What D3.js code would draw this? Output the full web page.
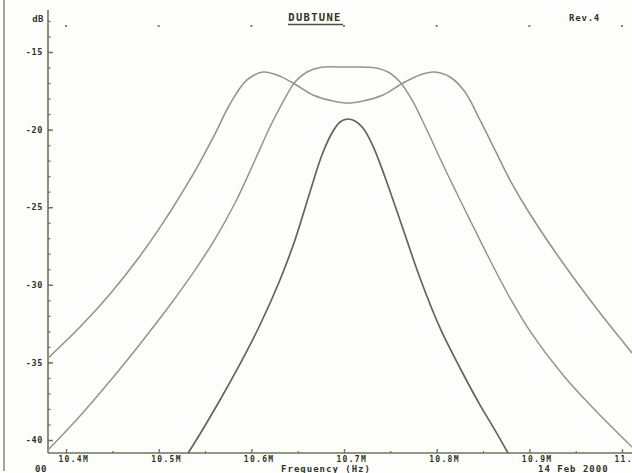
<!DOCTYPE html>
<html>
<head>
<meta charset="utf-8">
<script src="https://cdn.jsdelivr.net/npm/d3@7/dist/d3.min.js"></script>
<style>
  html, body { margin: 0; padding: 0; background: #fdfdfb; }
  svg { display: block; }
  text { font-family: "DejaVu Sans Mono", monospace; font-weight: bold; fill: #2f3424; }
</style>
</head>
<body>
<script>
// ---------------- data ----------------
const title = "DUBTUNE";
const revision = "Rev.4";
const dateLabel = "14 Feb 2000";
const xAxisTitle = "Frequency (Hz)";
const yAxisUnit = "dB";
const cornerLabel = "00";

const xTickValues = [10.4, 10.5, 10.6, 10.7, 10.8, 10.9, 11.0];
const xTickLabels = ["10.4M", "10.5M", "10.6M", "10.7M", "10.8M", "10.9M", "11.0"];
const xMinorTicks = [10.45, 10.55, 10.65, 10.75, 10.85, 10.95];
const yTickValues = [-40, -35, -30, -25, -20, -15];
const yMinorTicks = [-40, -39, -38, -37, -36, -35, -34, -33, -32, -31, -30, -29, -28, -27, -26,
                     -25, -24, -23, -22, -21, -20, -19, -18, -17, -16, -15, -14, -13];

// Curve A: wide, double-humped response (MHz, dB)
const freqA = [10.3806, 10.4151, 10.4475, 10.4799, 10.5068, 10.5284, 10.5446, 10.5608, 10.5770,
               10.5953, 10.6126, 10.6277, 10.6450, 10.6665, 10.6881, 10.7043, 10.7205, 10.7421,
               10.7637, 10.7820, 10.7971, 10.8144, 10.8306, 10.8467, 10.8629, 10.8791, 10.9007,
               10.9363, 10.9730, 11.0108];
const dbA   = [-34.72, -32.72, -30.59, -28.14, -25.82, -23.76, -22.09, -20.28, -18.35,
               -16.80, -16.29, -16.48, -17.00, -17.77, -18.16, -18.29, -18.16, -17.77,
               -17.00, -16.48, -16.29, -16.61, -17.58, -19.38, -21.31, -23.25, -25.44,
               -28.60, -31.56, -34.39];

// Curve B: flat-topped response
const freqB = [10.3806, 10.4151, 10.4475, 10.4799, 10.5122, 10.5392, 10.5608, 10.5824, 10.6040,
               10.6201, 10.6342, 10.6471, 10.6601, 10.6741, 10.7032, 10.7313, 10.7475, 10.7604,
               10.7734, 10.7874, 10.8090, 10.8306, 10.8575, 10.8791, 10.9007, 10.9363, 10.9730,
               11.0108];
const dbB   = [-40.64, -38.45, -36.20, -33.81, -31.30, -29.05, -27.05, -24.73, -21.96,
               -19.83, -18.22, -16.93, -16.29, -16.00, -15.97, -16.00, -16.29, -16.93,
               -18.09, -19.77, -22.54, -25.18, -28.40, -30.85, -32.98, -35.81, -38.20,
               -40.45];

// Curve C: narrow single-peak response
const freqC = [10.5284, 10.5446, 10.5662, 10.5878, 10.6093, 10.6309, 10.6471, 10.6633, 10.6762,
               10.6870, 10.6957, 10.7032, 10.7119, 10.7205, 10.7313, 10.7442, 10.7604, 10.7820,
               10.8036, 10.8252, 10.8467, 10.8629, 10.8770];
const dbC   = [-41.16, -39.61, -37.42, -35.10, -32.59, -29.69, -27.11, -24.02, -21.64,
               -20.22, -19.51, -19.32, -19.45, -19.90, -21.06, -23.05, -25.82, -29.56,
               -32.78, -35.36, -37.74, -39.36, -40.84];

// ---------------- layout ----------------
const W = 632, H = 473;
const frame = { left: 48, right: 632, top: 10, bottom: 453 };
const axisColor = "#6e755d";
const curveLight = "#8f9a82";
const curveDark = "#5f6951";

const svg = d3.select("body").append("svg").attr("width", W).attr("height", H);
svg.append("rect").attr("width", W).attr("height", H).attr("fill", "#fdfdfb");

const x = d3.scaleLinear().domain([10.4, 11.0]).range([66, 622]);
const y = d3.scaleLinear().domain([-40, -15]).range([440, 52]);

// scan edge line on the far left
svg.append("line").attr("x1", 4).attr("x2", 4).attr("y1", 0).attr("y2", 471)
  .attr("stroke", "#8c9180").attr("stroke-width", 1.6);

// clip
svg.append("clipPath").attr("id", "plotclip").append("rect")
  .attr("x", frame.left).attr("y", frame.top)
  .attr("width", frame.right - frame.left).attr("height", frame.bottom - frame.top);

// top dotted row at major frequencies
svg.append("g").selectAll("rect").data(xTickValues).join("rect")
  .attr("x", d => x(d) - 1).attr("y", 25).attr("width", 2).attr("height", 2)
  .attr("fill", "#7d836e");

// axes lines
svg.append("line").attr("x1", frame.left).attr("x2", frame.left)
  .attr("y1", frame.top).attr("y2", frame.bottom)
  .attr("stroke", axisColor).attr("stroke-width", 1.6);
svg.append("line").attr("x1", frame.left).attr("x2", frame.right)
  .attr("y1", frame.bottom).attr("y2", frame.bottom)
  .attr("stroke", axisColor).attr("stroke-width", 1.6);

// X axis (major)
const xAxis = d3.axisBottom(x).tickValues(xTickValues).tickSize(-4).tickPadding(3)
  .tickFormat((d, i) => xTickLabels[i]);
const gx = svg.append("g").attr("transform", `translate(0,${frame.bottom})`).call(xAxis);
gx.select(".domain").remove();
gx.selectAll(".tick line").attr("stroke", axisColor).attr("stroke-width", 1.4);
gx.selectAll(".tick text").attr("x", -8).attr("text-anchor", "start")
  .style("font-size", "8px").style("letter-spacing", "1.3px").attr("dy", "0.71em");

// X axis (minor)
const gxm = svg.append("g").attr("transform", `translate(0,${frame.bottom})`)
  .call(d3.axisBottom(x).tickValues(xMinorTicks).tickSize(-2).tickFormat(""));
gxm.select(".domain").remove();
gxm.selectAll(".tick line").attr("stroke", axisColor).attr("stroke-width", 1.2);

// Y axis (minor)
const gym = svg.append("g").attr("transform", `translate(${frame.left},0)`)
  .call(d3.axisLeft(y).tickValues(yMinorTicks).tickSize(-2.5).tickFormat(""));
gym.select(".domain").remove();
gym.selectAll(".tick line").attr("stroke", axisColor).attr("stroke-width", 1.3);

// Y axis (major)
const gy = svg.append("g").attr("transform", `translate(${frame.left},0)`)
  .call(d3.axisLeft(y).tickValues(yTickValues).tickSize(-5).tickPadding(5)
    .tickFormat(d => String(d)));
gy.select(".domain").remove();
gy.selectAll(".tick line").attr("stroke", axisColor).attr("stroke-width", 1.4);
gy.selectAll(".tick text").style("font-size", "8.5px").style("letter-spacing", "0.6px");

// curves
const line = d3.line().x(d => x(d[0])).y(d => y(d[1])).curve(d3.curveCatmullRom.alpha(0.5));
const curves = [
  { f: freqA, v: dbA, color: curveLight, w: 1.6 },
  { f: freqB, v: dbB, color: curveLight, w: 1.5 },
  { f: freqC, v: dbC, color: curveDark, w: 1.7 }
];
const gc = svg.append("g").attr("clip-path", "url(#plotclip)");
curves.forEach(c => {
  gc.append("path").datum(c.f.map((f, i) => [f, c.v[i]]))
    .attr("d", line).attr("fill", "none")
    .attr("stroke", c.color).attr("stroke-width", c.w);
});

// texts
svg.append("text").attr("x", 315).attr("y", 21).attr("text-anchor", "middle")
  .style("font-size", "10.5px").style("letter-spacing", "1.3px").text(title);
svg.append("line").attr("x1", 288).attr("x2", 343).attr("y1", 24.5).attr("y2", 24.5)
  .attr("stroke", "#4c5238").attr("stroke-width", 1.6);
svg.append("text").attr("x", 569).attr("y", 21)
  .style("font-size", "9px").style("letter-spacing", "0.8px").text(revision);
svg.append("text").attr("x", 44).attr("y", 22).attr("text-anchor", "end")
  .style("font-size", "9px").style("letter-spacing", "0.5px").text(yAxisUnit);
svg.append("text").attr("x", 326).attr("y", 472).attr("text-anchor", "middle")
  .style("font-size", "9px").style("letter-spacing", "1px").text(xAxisTitle);
svg.append("text").attr("x", 538).attr("y", 472)
  .style("font-size", "9px").style("letter-spacing", "1px").text(dateLabel);
svg.append("text").attr("x", 35).attr("y", 472)
  .style("font-size", "9px").style("letter-spacing", "0.5px").text(cornerLabel);
</script>
</body>
</html>
